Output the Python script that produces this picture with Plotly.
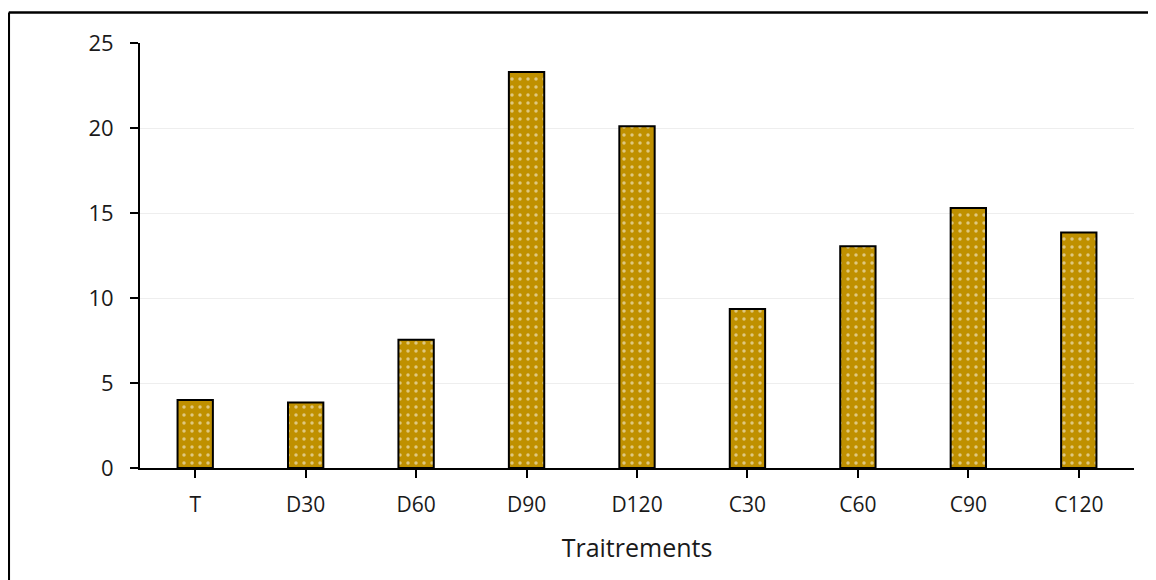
import plotly.graph_objects as go

categories = ["T", "D30", "D60", "D90", "D120", "C30", "C60", "C90", "C120"]
values = [4.0, 3.85, 7.55, 23.3, 20.1, 9.35, 13.05, 15.3, 13.85]
y_ticks = [0, 5, 10, 15, 20, 25]
x_title = "Traitrements"

fig = go.Figure()
fig.add_trace(go.Bar(
    x=categories, y=values,
    marker=dict(
        color="#BF9000",
        line=dict(color="black", width=2),
        pattern=dict(shape=".", fgcolor="white", bgcolor="#BF9000", size=8, solidity=0.15),
    ),
))

fig.update_layout(
    width=1148, height=572,
    margin=dict(l=132, r=22, t=35, b=112),
    paper_bgcolor="white", plot_bgcolor="white",
    bargap=0.68,
    showlegend=False,
    font=dict(family="Open Sans, Liberation Sans, sans-serif", color="#1a1a1a"),
    xaxis=dict(
        showline=True, linecolor="black", linewidth=2,
        ticks="outside", ticklen=8, tickwidth=2, tickcolor="black",
        tickfont=dict(size=21), ticklabelstandoff=9,
        title=dict(text=x_title, font=dict(size=25), standoff=22),
        showgrid=False,
    ),
    yaxis=dict(
        range=[0, 25], tickvals=y_ticks,
        showline=True, linecolor="black", linewidth=2,
        ticks="outside", ticklen=8, tickwidth=2, tickcolor="black",
        tickfont=dict(size=22), ticklabelstandoff=12,
        showgrid=True, gridcolor="#eeeeee", gridwidth=1,
        zeroline=False,
    ),
    shapes=[
        dict(type="line", xref="paper", yref="paper", x0=-0.132, x1=1.05, y0=1.0718, y1=1.0718,
             line=dict(color="black", width=2.5)),
        dict(type="line", xref="paper", yref="paper", x0=-0.132, x1=-0.132, y0=1.0718, y1=-0.35,
             line=dict(color="black", width=2.5)),
    ],
)

fig.write_html("out.html")
